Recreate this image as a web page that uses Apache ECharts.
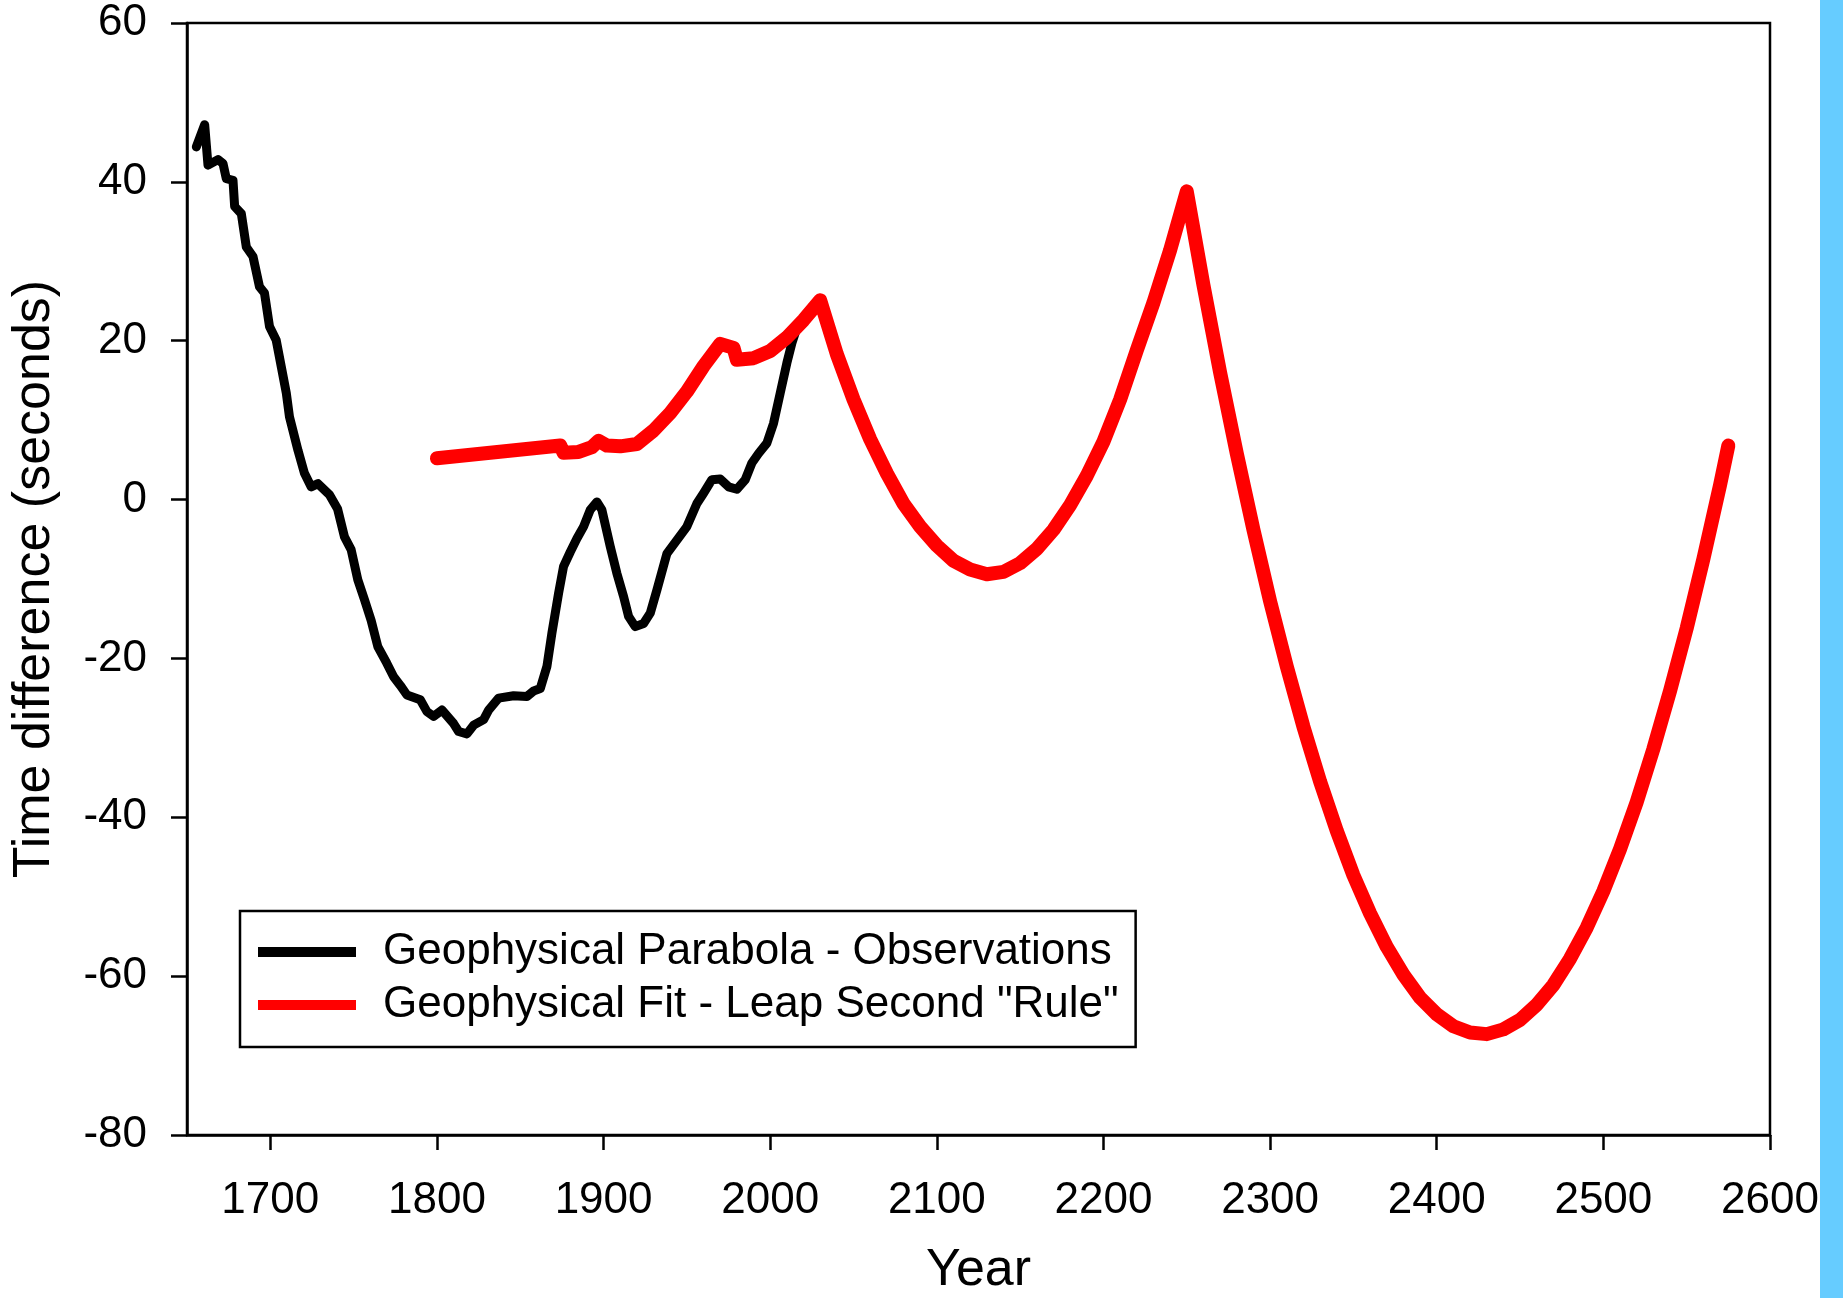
<!DOCTYPE html>
<html>
<head>
<meta charset="utf-8">
<title>Geophysical Parabola and Leap Second Rule</title>
<script src="https://cdn.jsdelivr.net/npm/echarts@6/dist/echarts.min.js"></script>
<style>
  html, body { margin: 0; padding: 0; background: #ffffff; }
  #chart { width: 1843px; height: 1298px; }
</style>
</head>
<body>
<div id="chart"></div>
<script>
// Observed time difference (seconds) by year
const obsYears = [1655.6, 1660.6, 1662.6, 1668.6, 1671.6, 1673.6, 1677.6, 1678.6, 1682.6, 1685.6,
  1689.6, 1693.5, 1696.5, 1699.5, 1703.5, 1706.6, 1709.6, 1711.5, 1716.6, 1720.5,
  1724.5, 1728.6, 1735.5, 1740.4, 1744.5, 1748.5, 1752.5, 1756.5, 1760.5, 1764.5,
  1769.9, 1774, 1778, 1782, 1790, 1794, 1798, 1803, 1810, 1813,
  1818, 1822, 1828, 1831, 1837, 1846, 1854, 1858, 1862, 1866,
  1869, 1873, 1876, 1880, 1884, 1888, 1892, 1896, 1899, 1904,
  1908, 1912, 1915, 1919, 1924, 1928, 1932, 1938, 1944, 1950,
  1956, 1960, 1965, 1970, 1975, 1980, 1985, 1989, 1993, 1998,
  2002, 2006, 2010, 2013, 2015];
const obsValues = [44.4, 47.2, 42.1, 42.8, 42.3, 40.4, 40.2, 36.9, 36.0, 31.8,
  30.6, 26.8, 26.0, 21.8, 20.1, 16.7, 13.4, 10.4, 6.2, 3.3,
  1.6, 2.0, 0.6, -1.2, -4.7, -6.3, -10.1, -12.6, -15.2, -18.5,
  -20.6, -22.3, -23.4, -24.6, -25.2, -26.7, -27.3, -26.5, -28.2, -29.2,
  -29.5, -28.4, -27.7, -26.5, -25.0, -24.7, -24.8, -24.1, -23.8, -21.0,
  -16.8, -11.8, -8.4, -6.6, -4.9, -3.4, -1.3, -0.3, -1.3, -5.9,
  -9.3, -12.2, -14.7, -16.0, -15.6, -14.3, -11.4, -6.8, -5.1, -3.4,
  -0.5, 0.8, 2.5, 2.6, 1.6, 1.3, 2.5, 4.6, 5.8, 7.1,
  9.6, 13.4, 17.2, 19.7, 21.0];

// Fitted time difference under the leap second rule
const fitYears = [1800, 1874, 1876, 1885, 1893, 1897, 1902, 1910, 1920, 1930,
  1940, 1950, 1960, 1970, 1978, 1980, 1990, 2000, 2010, 2020,
  2030, 2040, 2050, 2060, 2070, 2080, 2090, 2100, 2110, 2120,
  2130, 2140, 2150, 2160, 2170, 2180, 2190, 2200, 2210, 2220,
  2230, 2240, 2250, 2260, 2270, 2280, 2290, 2300, 2310, 2320,
  2330, 2340, 2350, 2360, 2370, 2380, 2390, 2400, 2410, 2420,
  2430, 2440, 2450, 2460, 2470, 2480, 2490, 2500, 2510, 2520,
  2530, 2540, 2550, 2560, 2570, 2575];
const fitValues = [5.2, 6.8, 5.9, 6.0, 6.6, 7.4, 6.8, 6.7, 7.0, 8.7,
  10.9, 13.6, 16.8, 19.6, 19.1, 17.6, 17.8, 18.7, 20.4, 22.6,
  25.1, 18.3, 12.6, 7.6, 3.3, -0.5, -3.4, -5.8, -7.7, -8.8,
  -9.4, -9.1, -8.0, -6.2, -3.8, -0.7, 3.0, 7.3, 12.6, 18.8,
  24.8, 31.4, 38.8, 27.0, 16.0, 5.8, -3.8, -12.8, -21.0, -28.6,
  -35.5, -41.7, -47.3, -52.1, -56.3, -59.8, -62.7, -64.8, -66.3, -67.1,
  -67.3, -66.7, -65.5, -63.6, -61.1, -57.8, -53.9, -49.3, -44.0, -38.1,
  -31.4, -24.1, -16.2, -7.5, 1.8, 6.8];

// Axis ticks
const yearTicks = [1700, 1800, 1900, 2000, 2100, 2200, 2300, 2400, 2500, 2600];

const seriesNames = ['Geophysical Parabola - Observations', 'Geophysical Fit - Leap Second "Rule"'];

const pairs = (xs, ys) => xs.map((x, i) => [x, ys[i]]);
const FONT = "'Liberation Sans', Arial, Helvetica, sans-serif";

const chart = echarts.init(document.getElementById('chart'), null, { renderer: 'canvas' });

chart.setOption({
  animation: false,
  backgroundColor: '#ffffff',
  textStyle: { fontFamily: FONT, color: '#000' },
  grid: {
    left: 187, right: 73, top: 23, bottom: 163,
    containLabel: false, outerBoundsMode: 'none',
    show: true, borderColor: '#000', borderWidth: 2.5, backgroundColor: 'transparent'
  },
  graphic: [{
    type: 'rect', right: 0, top: 0, z: 0,
    shape: { width: 23, height: 1298 },
    style: { fill: '#66CCFF' }
  }],
  legend: {
    data: seriesNames,
    orient: 'vertical',
    left: 240, top: 911,
    padding: [18, 17, 19, 18],
    itemWidth: 98, itemHeight: 10, itemGap: 7,
    icon: 'rect',
    borderColor: '#000', borderWidth: 2.5, borderRadius: 0,
    backgroundColor: '#fff',
    textStyle: { fontSize: 44, lineHeight: 46, color: '#000', fontFamily: FONT, padding: [0, 0, 0, 22] }
  },
  xAxis: {
    type: 'value', min: 1650, max: 2600,
    name: 'Year', nameLocation: 'middle', nameGap: 110,
    nameTextStyle: { fontSize: 52, color: '#000', fontFamily: FONT },
    axisLine: { show: true, onZero: false, lineStyle: { color: '#000', width: 2.5 } },
    axisTick: { show: true, inside: false, length: 15, customValues: yearTicks, lineStyle: { color: '#000', width: 2.5 } },
    axisLabel: {
      customValues: yearTicks, fontSize: 44, color: '#000', margin: 44, fontFamily: FONT,
      formatter: (v) => String(v)
    },
    splitLine: { show: false }
  },
  yAxis: {
    type: 'value', min: -80, max: 60, interval: 20,
    name: 'Time difference (seconds)', nameLocation: 'middle', nameGap: 126,
    nameTextStyle: { fontSize: 52, color: '#000', fontFamily: FONT },
    axisLine: { show: true, onZero: false, lineStyle: { color: '#000', width: 2.5 } },
    axisTick: { show: true, inside: false, length: 16, lineStyle: { color: '#000', width: 2.5 } },
    axisLabel: { fontSize: 44, color: '#000', margin: 40, fontFamily: FONT },
    splitLine: { show: false }
  },
  series: [
    {
      name: seriesNames[0], type: 'line',
      data: pairs(obsYears, obsValues),
      showSymbol: false, symbol: 'none', smooth: false,
      color: '#000000',
      lineStyle: { color: '#000000', width: 9, cap: 'round', join: 'round' },
      z: 2
    },
    {
      name: seriesNames[1], type: 'line',
      data: pairs(fitYears, fitValues),
      showSymbol: false, symbol: 'none', smooth: false,
      color: '#ff0000',
      lineStyle: { color: '#ff0000', width: 14, cap: 'round', join: 'round' },
      z: 3
    }
  ]
});
</script>
</body>
</html>
